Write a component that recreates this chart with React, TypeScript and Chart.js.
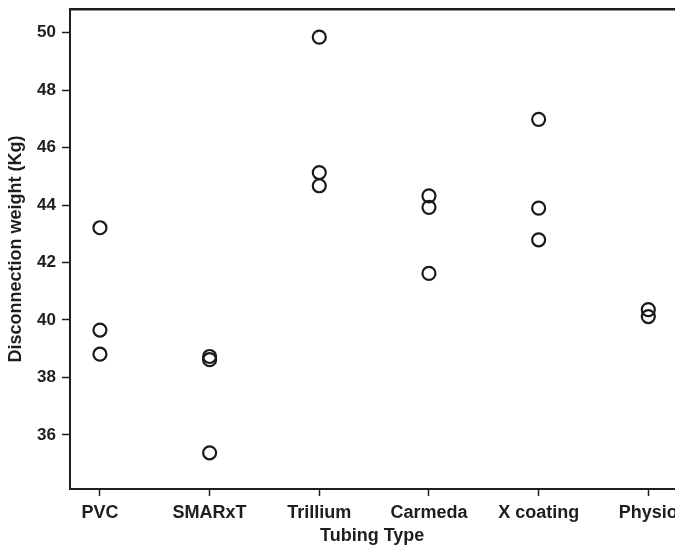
import { useEffect, useRef } from "react";
import { Chart, registerables } from "chart.js";
Chart.register(...registerables);

const categories = ["PVC", "SMARxT", "Trillium", "Carmeda", "X coating", "Physio"];
const pvc = [43.21, 39.65, 38.81];
const smarxt = [38.73, 38.62, 35.38];
const trillium = [49.84, 45.13, 44.67];
const carmeda = [44.32, 43.92, 41.62];
const xcoating = [46.98, 43.89, 42.79];
const physio = [40.36, 40.12];
const seriesValues = [pvc, smarxt, trillium, carmeda, xcoating, physio];
const yTickValues = [36, 38, 40, 42, 44, 46, 48, 50];

const INK = "#1e1e1e";
const FAMILY = "'Liberation Sans', Arial, sans-serif";
const TICK_FONT = { family: FAMILY, size: 17, weight: "bold" as const };
const XTICK_FONT = { family: FAMILY, size: 18, weight: "bold" as const };
const TITLE_FONT = { family: FAMILY, size: 18, weight: "bold" as const };

export default function App() {
  const ref = useRef<HTMLCanvasElement | null>(null);
  useEffect(() => {
    if (!ref.current) return;
    const points = seriesValues.flatMap((vals, i) => vals.map((v) => ({ x: i, y: v })));
    const chart = new Chart(ref.current, {
      type: "scatter",
      data: {
        datasets: [
          {
            data: points,
            pointStyle: "circle",
            pointRadius: 6.5,
            pointBorderWidth: 2.2,
            borderColor: "#1a1a1a",
            backgroundColor: "rgba(0,0,0,0)",
          },
        ],
      },
      options: {
        animation: false,
        responsive: false,
        devicePixelRatio: 1,
        layout: { padding: { top: 9, left: 0, right: 0, bottom: 0 } },
        plugins: { legend: { display: false }, tooltip: { enabled: false } },
        scales: {
          x: {
            type: "linear",
            position: "bottom",
            min: -0.273,
            max: 5.237,
            afterBuildTicks: (scale: any) => {
              scale.ticks = categories.map((_, i) => ({ value: i }));
            },
            afterFit: (scale: any) => {
              scale.height = 58;
              scale.paddingLeft = 0;
              scale.paddingRight = 0;
            },
            ticks: {
              autoSkip: false,
              maxRotation: 0,
              padding: 6,
              color: INK,
              font: XTICK_FONT,
              callback: (v: any) => categories[v as number] ?? "",
            },
            grid: {
              display: true,
              drawOnChartArea: false,
              drawTicks: true,
              tickLength: 7,
              tickColor: INK,
              tickWidth: 1.5,
            },
            border: { display: true, color: INK, width: 2 },
            title: {
              display: true,
              text: "Tubing Type",
              color: INK,
              font: TITLE_FONT,
              padding: { top: 2, bottom: 0 },
            },
          },
          x2: {
            type: "linear",
            position: "top",
            display: true,
            afterFit: (scale: any) => {
              scale.height = 0;
              scale.paddingLeft = 0;
              scale.paddingRight = 0;
            },
            ticks: { display: false },
            grid: { display: false, drawTicks: false },
            border: { display: true, color: INK, width: 2.5 },
          },
          y: {
            type: "linear",
            position: "left",
            min: 34.12,
            max: 50.82,
            afterBuildTicks: (scale: any) => {
              scale.ticks = yTickValues.map((v) => ({ value: v }));
            },
            afterFit: (scale: any) => {
              scale.width = 70;
              scale.paddingTop = 0;
              scale.paddingBottom = 0;
            },
            ticks: { padding: 6, color: INK, font: TICK_FONT },
            grid: {
              display: true,
              drawOnChartArea: false,
              drawTicks: true,
              tickLength: 8,
              tickColor: INK,
              tickWidth: 1.5,
            },
            border: { display: true, color: INK, width: 2 },
            title: {
              display: true,
              text: "Disconnection weight (Kg)",
              color: INK,
              font: TITLE_FONT,
              padding: { top: 5, bottom: 2 },
            },
          },
        },
      },
    });
    return () => chart.destroy();
  }, []);
  return (
    <div style={{ position: "absolute", left: 0, top: 0, width: 675, height: 547, overflow: "hidden", background: "#fff" }}>
      <canvas ref={ref} width={683} height={547} style={{ width: 683, height: 547, display: "block" }} />
    </div>
  );
}
